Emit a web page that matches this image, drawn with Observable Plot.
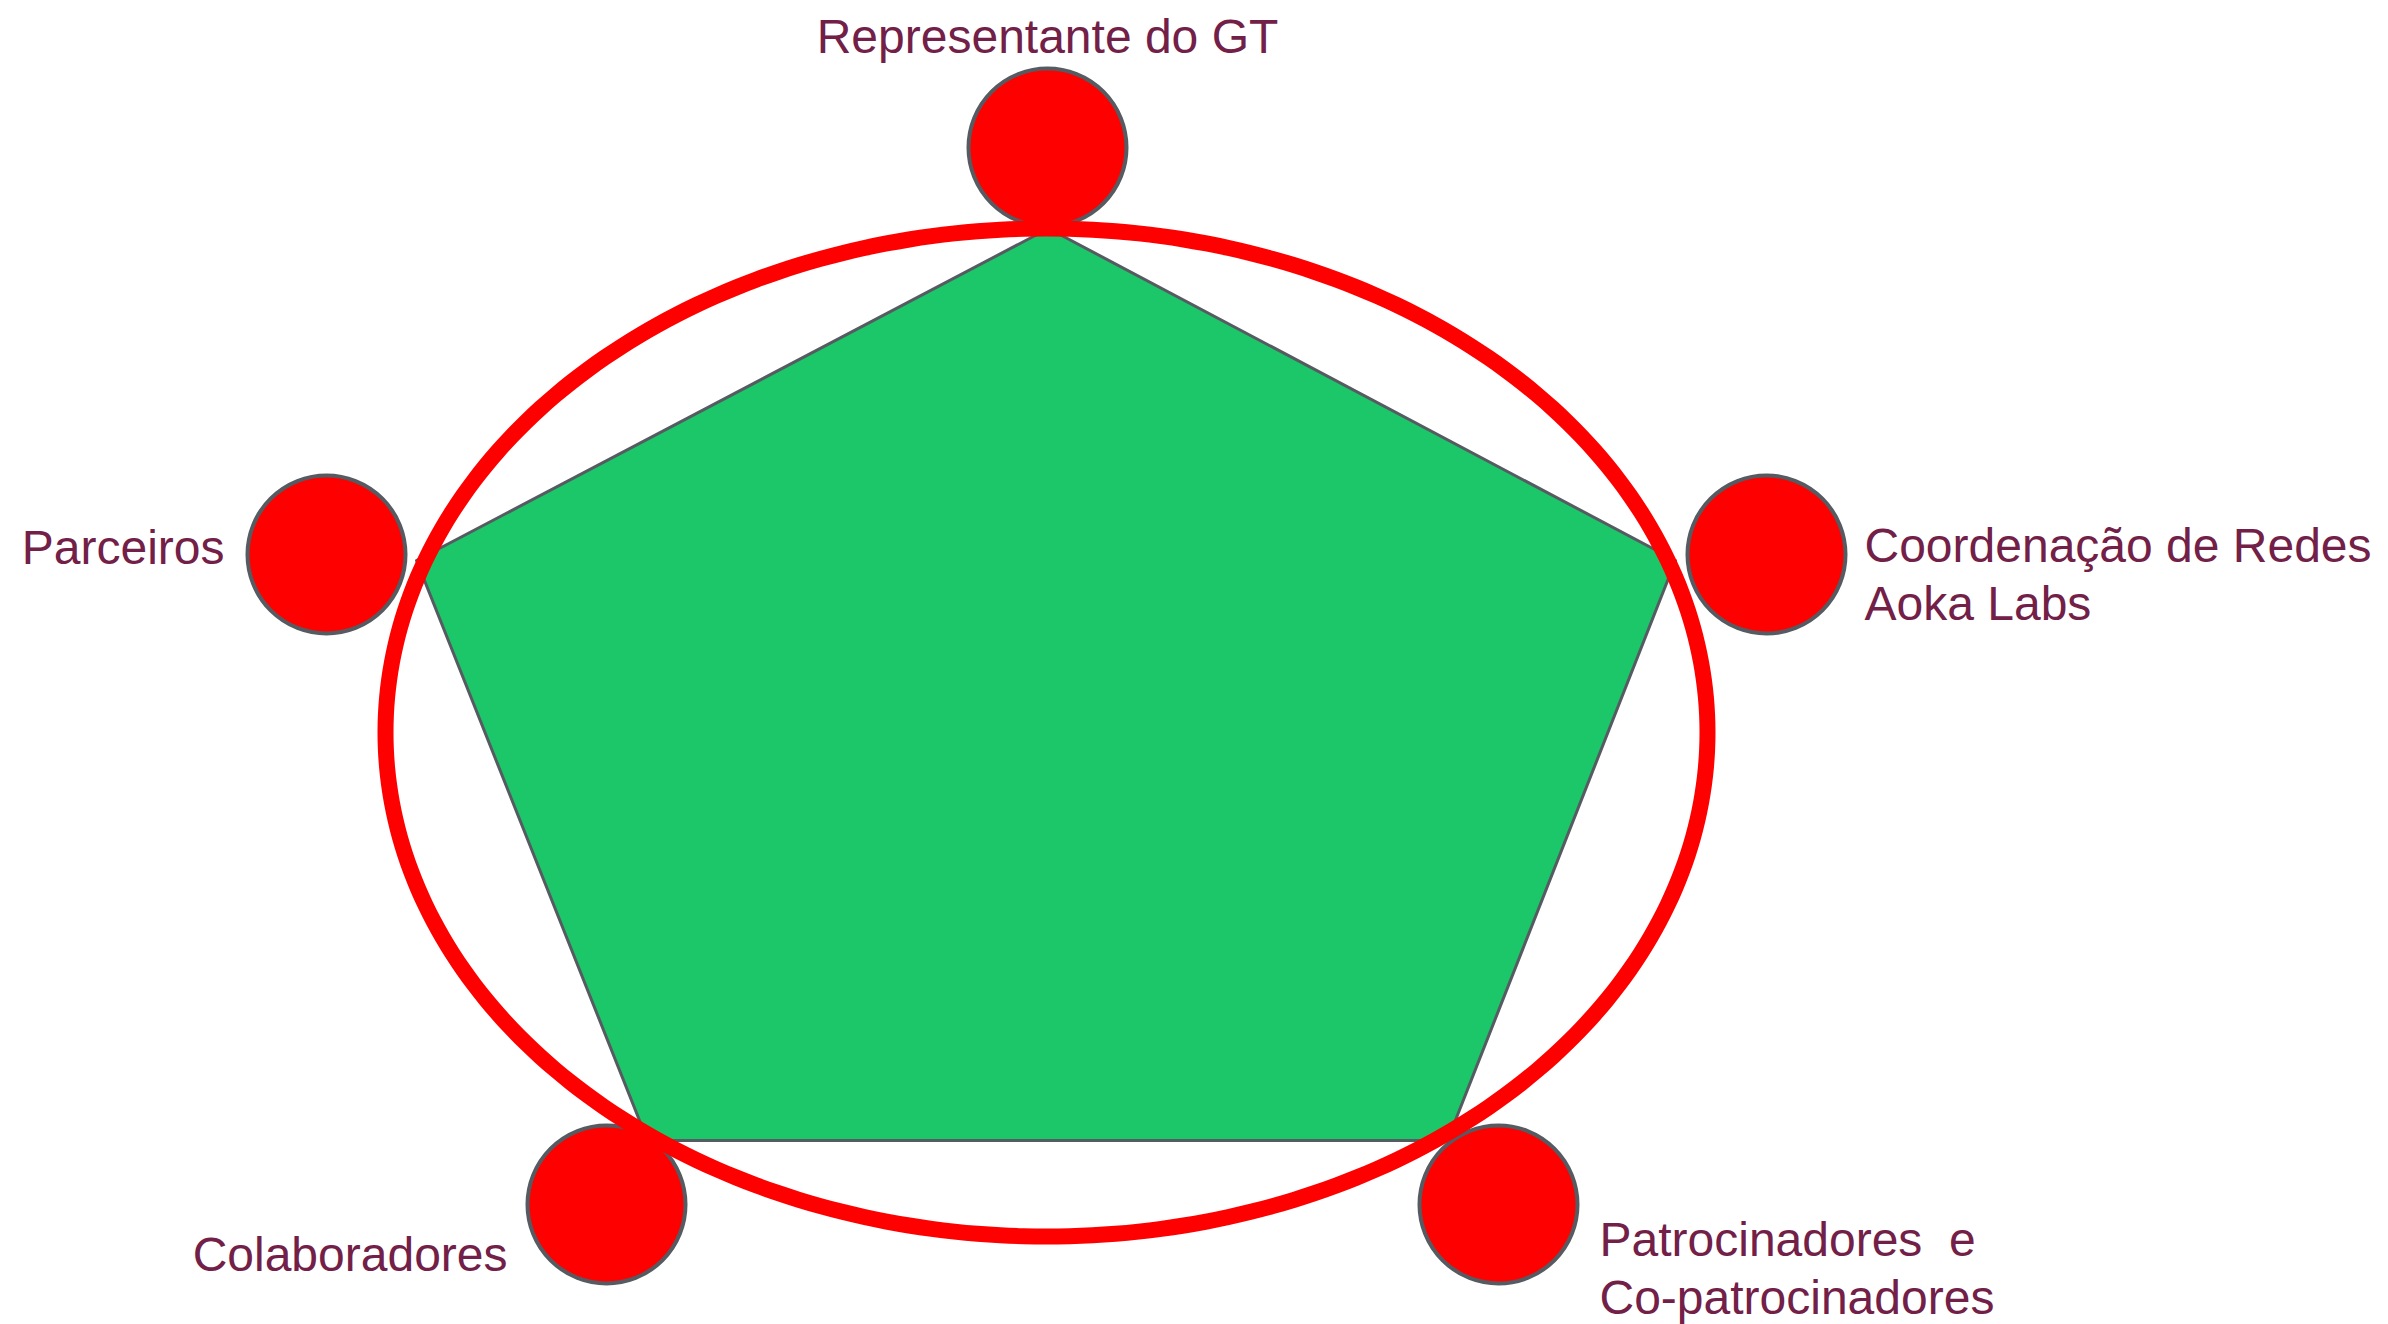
<!DOCTYPE html>
<html>
<head>
<meta charset="utf-8">
<script src="https://cdn.jsdelivr.net/npm/d3@7"></script>
<script src="https://cdn.jsdelivr.net/npm/@observablehq/plot@0.6"></script>
<style>
  html, body { margin: 0; padding: 0; background: #ffffff; }
  #chart svg text { white-space: pre; }
</style>
</head>
<body>
<div id="chart"></div>
<script>
// Nodes (members) around the structure
const nodeNames = ["Representante do GT", "Coordenação de Redes", "Patrocinadores", "Colaboradores", "Parceiros"];
const nodeX = [1047, 1766, 1498, 606, 326];
const nodeY = [147, 554, 1204, 1204, 554];

// Labels for the nodes
const labelTexts = ["Representante do GT", "Coordenação de Redes\nAoka Labs", "Patrocinadores  e\nCo-patrocinadores", "Colaboradores", "Parceiros"];
const labelX = [1047, 1864, 1599, 507, 224];
const labelY = [52, 619, 1313, 1270, 563];
const labelAnchor = ["middle", "start", "start", "end", "end"];

// Pentagon (core) vertices
const pentX = [1048, 1675, 1447, 647, 416];
const pentY = [228, 560, 1140, 1140, 560];

// Enclosing ellipse: center and radii
const ellipseCenter = [1046, 732];
const ellipseRadii = [661, 504];

const nodes = nodeNames.map((n, i) => ({name: n, x: nodeX[i], y: nodeY[i]}));
const labels = labelTexts.map((t, i) => ({text: t, x: labelX[i], y: labelY[i], anchor: labelAnchor[i]}));
const pentagon = pentX.map((x, i) => ({x, y: pentY[i]}));
const ellipse = d3.range(0, 360, 2).map(a => {
  const t = a * Math.PI / 180;
  return {x: ellipseCenter[0] + ellipseRadii[0] * Math.cos(t), y: ellipseCenter[1] + ellipseRadii[1] * Math.sin(t)};
});

const W = 2388, H = 1324;
const font = "'Liberation Sans', Arial, sans-serif";
const textColor = "#722047";

const chart = Plot.plot({
  width: W,
  height: H,
  margin: 0,
  x: {domain: [0, W], range: [0, W], axis: null},
  y: {domain: [0, H], range: [0, H], axis: null},
  style: {fontFamily: font, background: "#ffffff"},
  marks: [
    Plot.line(pentagon, {x: "x", y: "y", curve: "linear-closed", fill: "#1bc768", stroke: "#565b62", strokeWidth: 3}),
    Plot.dot(nodes, {x: "x", y: "y", r: 79, fill: "#ff0000", stroke: "#565b62", strokeWidth: 4}),
    Plot.line(ellipse, {x: "x", y: "y", curve: "cardinal-closed", stroke: "#ff0000", strokeWidth: 16, fill: "none"}),
    ...["middle", "start", "end"].map(anc =>
      Plot.text(labels.filter(d => d.anchor === anc), {
        x: "x", y: "y", text: "text", textAnchor: anc, lineAnchor: "bottom",
        fontSize: 48, lineHeight: 1.19, fill: textColor, fontFamily: font
      })
    )
  ]
});
document.getElementById("chart").appendChild(chart);
</script>
</body>
</html>
